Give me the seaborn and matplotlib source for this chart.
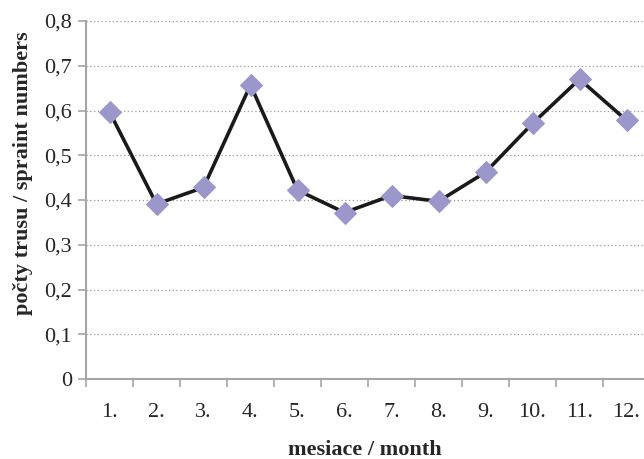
import matplotlib
matplotlib.use("Agg")
import matplotlib.pyplot as plt
import seaborn as sns
import pandas as pd
import numpy as np

months = ["1.", "2.", "3.", "4.", "5.", "6.", "7.", "8.", "9.", "10.", "11.", "12."]
values = [0.597, 0.391, 0.428, 0.657, 0.422, 0.372, 0.410, 0.397, 0.462, 0.571, 0.670, 0.578]
yticks = [0, 0.1, 0.2, 0.3, 0.4, 0.5, 0.6, 0.7, 0.8]
ytick_labels = ["0", "0,1", "0,2", "0,3", "0,4", "0,5", "0,6", "0,7", "0,8"]

sns.set_theme(style="white")
plt.rcParams['font.family'] = ['Liberation Serif', 'DejaVu Serif']

df = pd.DataFrame({"pos": np.arange(len(months)), "val": values})

fig = plt.figure(figsize=(6.44, 4.59), dpi=100)
W, H = 644, 459
left, right, top, bottom = 86, 650, 21, 379
ax = fig.add_axes([left / W, 1 - bottom / H, (right - left) / W, (bottom - top) / H])

sns.lineplot(data=df, x="pos", y="val", ax=ax, color="#1a1a1a", linewidth=2.6,
             marker="D", markersize=11, markerfacecolor="#9b97cb",
             markeredgecolor="#9b97cb", zorder=3)

ax.set_xlim(-0.5, len(months) - 0.5)
ax.set_ylim(0, 0.8)
ax.set_yticks(yticks)
ax.set_yticklabels(ytick_labels, fontsize=16)
ax.set_xticks(np.arange(len(months)))
ax.set_xticklabels(months, fontsize=16)
ax.set_xticks(np.arange(len(months) + 1) - 0.5, minor=True)
ax.tick_params(axis="x", which="major", length=0, pad=17)
ax.tick_params(axis="x", which="minor", length=6, color="#a6a6a6", width=1.2, bottom=True)
ax.tick_params(axis="y", length=6, color="#a6a6a6", width=1.2, left=True, pad=4)

ax.grid(axis="y", color="#999999", linestyle=(0, (1, 2)), linewidth=0.9)
ax.set_axisbelow(True)
for s in ["top", "right"]:
    ax.spines[s].set_visible(False)
for s in ["left", "bottom"]:
    ax.spines[s].set_color("#a6a6a6")
    ax.spines[s].set_linewidth(1.5)

ax.set_xlabel("mesiace / month", fontsize=16, fontweight="bold", va="center")
ax.xaxis.set_label_coords((365 - left) / (right - left), (bottom - 450) / (bottom - top))
ax.set_ylabel("počty trusu / spraint numbers", fontsize=16, fontweight="bold", va="center")
ax.yaxis.set_label_coords((23 - left) / (right - left), (bottom - 173) / (bottom - top))

fig.savefig("out.png", dpi=100)
